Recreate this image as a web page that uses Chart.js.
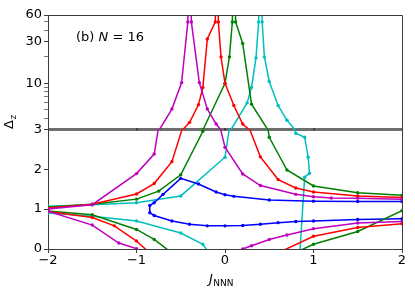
<!DOCTYPE html>
<html>
<head>
<meta charset="utf-8">
<script src="https://cdn.jsdelivr.net/npm/chart.js@4/dist/chart.umd.min.js"></script>
<style>
  html, body { margin: 0; padding: 0; background: #fff; }
  canvas { display: block; }
</style>
</head>
<body>
<canvas id="gapChart" width="415" height="297"></canvas>
<script>
// axis ticks
const xTicks = [-2, -1, 0, 1, 2];
const linTicks = [0, 1, 2, 3];
const logTicks = [3, 4, 5, 6, 7, 8, 9, 10, 20, 30, 40, 50, 60];
const logLabels = [3, 10, 30, 60];

// branches as [J_NNN, Delta_z]
const magentaUpper = [[-2, 1.00], [-1.5, 1.11], [-1, 1.89], [-0.8, 2.38], [-0.6, 5.1], [-0.49, 10.2], [-0.42, 50], [-0.4, 400], [-0.38, 50], [-0.29, 10.2], [-0.2, 5.1], [-0.1, 3.45], [0, 2.55], [0.2, 1.88], [0.4, 1.59], [0.8, 1.37], [1, 1.31], [1.2, 1.28], [1.5, 1.27], [2, 1.25]];
const magentaLower = [[-2, 0.95], [-1.5, 0.60], [-1.2, 0.15], [-1, 0.01], [-0.8, -0.3], [0, -0.3], [0.2, 0.0], [0.3, 0.08], [0.5, 0.24], [0.7, 0.35], [1, 0.51], [1.5, 0.65], [2, 0.69]];
const redUpper = [[-2, 1.03], [-1.5, 1.12], [-1, 1.38], [-0.8, 1.64], [-0.6, 2.19], [-0.4, 3.6], [-0.3, 5.7], [-0.25, 9], [-0.2, 32], [-0.11, 50], [-0.093, 400], [-0.075, 50], [-0.045, 20], [0, 10], [0.1, 5.6], [0.2, 3.45], [0.4, 2.31], [0.6, 1.74], [0.8, 1.53], [1, 1.43], [1.5, 1.33], [2, 1.29]];
const redLower = [[-2, 0.94], [-1.5, 0.79], [-1.25, 0.58], [-1, 0.2], [-0.8, -0.2], [0.5, -0.2], [1, 0.32], [1.5, 0.54], [2, 0.63]];
const greenUpper = [[-2, 1.05], [-1.5, 1.12], [-1, 1.25], [-0.75, 1.45], [-0.5, 1.86], [-0.25, 2.95], [0, 10], [0.05, 20], [0.083, 50], [0.1, 400], [0.12, 50], [0.2, 28.5], [0.3, 5.8], [0.5, 2.8], [0.7, 1.98], [1, 1.58], [1.5, 1.41], [2, 1.35]];
const greenLower = [[-2, 0.95], [-1.5, 0.86], [-1, 0.49], [-0.8, 0.24], [-0.6, -0.1], [0.5, -0.4], [1, 0.12], [1.5, 0.44], [2, 0.96]];
const blueLoop = [[2, 1.19], [1.5, 1.19], [1, 1.2], [0.5, 1.23], [0.1, 1.32], [0, 1.36], [-0.1, 1.43], [-0.3, 1.63], [-0.5, 1.77], [-0.7, 1.37], [-0.8, 1.16], [-0.85, 1.09], [-0.85, 0.91], [-0.8, 0.84], [-0.6, 0.70], [-0.4, 0.62], [-0.2, 0.58], [0, 0.58], [0.2, 0.59], [0.4, 0.62], [0.6, 0.66], [0.8, 0.69], [1, 0.70], [1.5, 0.74], [2, 0.76]];
const cyanUpper = [[-2, 1.07], [-1.5, 1.11], [-1, 1.16], [-0.5, 1.33], [0, 2.3], [0.25, 6.0], [0.3, 9], [0.35, 19.5], [0.38, 50], [0.4, 400], [0.42, 50], [0.445, 20], [0.5, 10.5], [0.6, 5.6], [0.7, 3.8], [0.8, 2.9], [0.9, 2.8], [0.94, 2.3], [0.955, 1.9], [0.9, 1.8], [0.82, -1]];
const cyanLower = [[-2, 0.90], [-1.5, 0.82], [-1, 0.70], [-0.5, 0.40], [-0.25, 0.12], [-0.15, -0.2]];

const series = [
  { pts: magentaUpper, color: '#bf00bf' },
  { pts: magentaLower, color: '#bf00bf' },
  { pts: redUpper, color: '#ff0000' },
  { pts: redLower, color: '#ff0000' },
  { pts: greenUpper, color: '#008000' },
  { pts: greenLower, color: '#008000' },
  { pts: blueLoop, color: '#0000ff' },
  { pts: cyanUpper, color: '#00bfbf' },
  { pts: cyanLower, color: '#00bfbf' }
];

// every branch is drawn on both halves (linear below 3, log above)
const datasets = [];
series.forEach(s => {
  ['yLin', 'yLog'].forEach(axis => {
    datasets.push({
      data: s.pts.map(p => ({ x: p[0], y: p[1] })),
      yAxisID: axis,
      borderColor: s.color,
      backgroundColor: s.color,
      borderWidth: 1.5,
      pointRadius: 1.7,
      pointBorderWidth: 0,
      clip: false
    });
  });
});

const font = { family: 'DejaVu Sans', size: 13 };
const spine = '#3c3c3c';
const minus = v => (v < 0 ? '\u2212' + Math.abs(v) : String(v));

// clip each dataset to the height of its own y axis
const axisClip = {
  id: 'axisClip',
  beforeDatasetDraw(chart, args) {
    const ys = chart.scales[args.meta.yAxisID];
    const a = chart.chartArea;
    const ctx = chart.ctx;
    ctx.save();
    ctx.beginPath();
    ctx.rect(a.left, ys.top, a.right - a.left, ys.bottom - ys.top);
    ctx.clip();
  },
  afterDatasetDraw(chart) {
    chart.ctx.restore();
  }
};

// top/right spines, small ticks on the break line, and text
const decor = {
  id: 'decor',
  afterDraw(chart) {
    const ctx = chart.ctx;
    const a = chart.chartArea;
    ctx.save();
    ctx.strokeStyle = spine;
    ctx.lineWidth = 1;
    ctx.beginPath();
    ctx.moveTo(a.left, a.top + 0.5);
    ctx.lineTo(a.right + 0.5, a.top + 0.5);
    ctx.lineTo(a.right + 0.5, a.bottom);
    ctx.stroke();

    // tiny x ticks where the two halves meet
    const yb = chart.scales.yLin.getPixelForValue(3);
    ctx.fillStyle = '#111';
    xTicks.slice(1, -1).forEach(v => {
      const px = Math.round(chart.scales.x.getPixelForValue(v));
      ctx.fillRect(px - 0.5, yb - 1, 1.2, 2);
    });

    ctx.fillStyle = '#000';
    ctx.textBaseline = 'alphabetic';
    ctx.textAlign = 'left';

    // panel label
    let x = 76, y = 41;
    ctx.font = '13px "DejaVu Sans"';
    ctx.fillText('(b) ', x, y);
    x += ctx.measureText('(b) ').width;
    ctx.font = 'italic 13px "DejaVu Sans"';
    ctx.fillText('N', x, y);
    x += ctx.measureText('N').width;
    ctx.font = '13px "DejaVu Sans"';
    ctx.fillText(' = 16', x, y);

    // x title
    ctx.font = 'italic 13px "DejaVu Sans"';
    ctx.fillText('J', 209, 283);
    const jw = ctx.measureText('J').width;
    ctx.font = '9px "DejaVu Sans"';
    ctx.fillText('NNN', 209 + jw + 0.5, 286);

    // y title
    ctx.translate(13, 129);
    ctx.rotate(-Math.PI / 2);
    ctx.font = '13px "DejaVu Sans"';
    ctx.fillText('\u0394', 0, 0);
    const dw = ctx.measureText('\u0394').width;
    ctx.font = '9px "DejaVu Sans"';
    ctx.fillText('z', dw + 0.5, 2.5);
    ctx.restore();
  }
};

new Chart(document.getElementById('gapChart'), {
  type: 'line',
  data: { datasets },
  options: {
    responsive: false,
    animation: false,
    devicePixelRatio: 1,
    layout: { padding: { top: 15, right: 13, left: 0, bottom: 0 } },
    plugins: { legend: { display: false }, tooltip: { enabled: false } },
    scales: {
      x: {
        type: 'linear',
        min: -2,
        max: 2,
        afterBuildTicks: s => { s.ticks = xTicks.map(v => ({ value: v })); },
        afterFit: s => { s.height = 48; },
        ticks: { font, color: '#000', padding: 0, callback: v => minus(v) },
        grid: { drawOnChartArea: false, tickLength: 4, tickColor: spine },
        border: { color: spine }
      },
      yLin: {
        type: 'linear',
        position: 'left',
        stack: 'dz',
        stackWeight: 1.047,
        min: 0,
        max: 3,
        z: 1,
        afterBuildTicks: s => { s.ticks = linTicks.map(v => ({ value: v })); },
        afterFit: s => { s.width = 48; },
        ticks: { font, color: '#000', padding: 2, autoSkip: false, callback: v => (v === 3 ? '' : String(v)) },
        grid: {
          color: c => (c.tick && c.tick.value === 3 ? '#6e6e6e' : 'rgba(0,0,0,0)'),
          lineWidth: c => (c.tick && c.tick.value === 3 ? 3 : 1),
          tickLength: 4,
          tickWidth: 1,
          tickColor: spine
        },
        border: { color: spine }
      },
      yLog: {
        type: 'logarithmic',
        position: 'left',
        stack: 'dz',
        stackWeight: 1,
        min: 3,
        max: 60,
        afterBuildTicks: s => { s.ticks = logTicks.map(v => ({ value: v })); },
        afterFit: s => { s.width = 48; },
        ticks: { font, color: '#000', padding: 2, autoSkip: false, callback: v => (logLabels.includes(v) ? String(v) : '') },
        grid: {
          drawOnChartArea: false,
          tickLength: 4,
          tickWidth: c => (c.tick && logLabels.includes(c.tick.value) ? 1 : 0.7),
          tickColor: spine
        },
        border: { color: spine }
      }
    }
  },
  plugins: [axisClip, decor]
});
</script>
</body>
</html>
